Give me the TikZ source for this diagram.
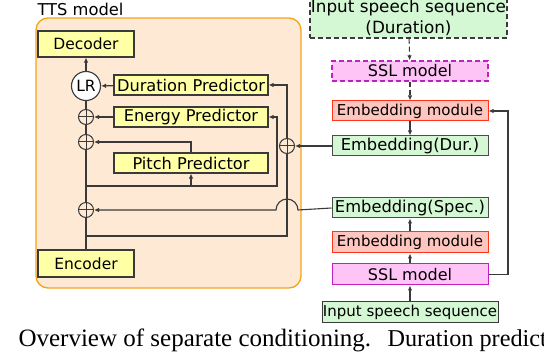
\documentclass[tikz,border=0pt]{standalone}
\usepackage{fontspec}
\setmainfont{DejaVu Sans}
\newfontfamily\capfont{Liberation Serif}
\usetikzlibrary{arrows.meta,positioning,calc}
\definecolor{cLine}{HTML}{3a3a3a}
\definecolor{cOrg}{HTML}{f5a418}
\definecolor{cOrgF}{HTML}{fde9d4}
\definecolor{cYel}{HTML}{ffffa6}
\definecolor{cGrn}{HTML}{d4f7d4}
\definecolor{cPnk}{HTML}{ffc4f6}
\definecolor{cMag}{HTML}{c020c0}
\definecolor{cRed}{HTML}{ffc6c0}
\definecolor{cRedB}{HTML}{ff3418}
\tikzset{
  blk/.style={draw=cLine,line width=1.1pt,fill=cYel,inner sep=0pt,
              font=\fontsize{15.5}{17}\selectfont},
  pred/.style={blk,minimum width=154,minimum height=20,
              font=\fontsize{16.2}{17}\selectfont},
  emb/.style={draw=gray!60!black,line width=1pt,fill=cGrn,inner sep=0pt,
              minimum width=156,minimum height=20,font=\fontsize{15}{17}\selectfont},
  embtxt/.style={emb,font=\fontsize{16.3}{17}\selectfont},
  embmod/.style={emb,draw=cRedB,fill=cRed},
  ssl/.style={emb,draw=cMag,fill=cPnk,font=\fontsize{16}{17}\selectfont},
  dash6/.style={dash pattern=on 5pt off 3pt},
  oplus/.style={circle,draw=cLine,line width=1pt,fill=cOrgF,minimum size=15,
              inner sep=0pt,path picture={
              \draw[cLine,line width=1pt]
                (path picture bounding box.north)--(path picture bounding box.south)
                (path picture bounding box.west)--(path picture bounding box.east);}},
  flow/.style={-{Latex[length=5pt,width=4.5pt]},cLine,line width=1.1pt},
  wire/.style={cLine,line width=1.1pt},
  capt/.style={font=\capfont\fontsize{25}{27}\selectfont},
}
\begin{document}
\begin{tikzpicture}[x=1pt,y=-1pt]
  \useasboundingbox (0,0) rectangle (544,352);
  % TTS model
  \draw[cOrg,line width=1.3pt,fill=cOrgF,rounded corners=12pt] (36,18) rectangle (301,288);
  \node[anchor=base west,font=\fontsize{16.3}{17}\selectfont] (tts) at (34,16) {TTS model};
  \node[blk,minimum width=96,minimum height=26] (dec) at (86,44) {Decoder};
  \node[blk,minimum width=96,minimum height=27] (enc) at (86,263.5) {Encoder};
  \node[circle,draw=cLine,line width=1.1pt,fill=white,minimum size=29,inner sep=0pt,
        font=\fontsize{15.5}{17}\selectfont] (lr) at (86,86) {LR};
  \node[pred] (durp) at (191,85) {Duration Predictor};
  \node[pred] (engp) at (191,117) {Energy Predictor};
  \node[pred] (pitp) at (191,163) {Pitch Predictor};
  \node[oplus] (addE) at (86,117) {};
  \node[oplus] (addP) at (86,142) {};
  \node[oplus] (addS) at (86,210) {};
  \node[oplus] (addD) at (287,146) {};
  % input branch (duration)
  \node[emb,draw=cLine,line width=1.2pt,dash6,minimum width=197,minimum height=41,
        align=center,font=\fontsize{16.8}{21}\selectfont] (inD) at (408.5,17.5)
        {Input speech sequence\\(Duration)};
  \node[ssl,dash6,line width=1.2pt] (sslD) at (410,71) {SSL model};
  \node[embmod] (modD) at (410,111) {Embedding module};
  \node[embtxt] (embD) at (410,146) {Embedding(Dur.)};
  % input branch (spectrum)
  \node[embtxt] (embS) at (410,208) {Embedding(Spec.)};
  \node[embmod,minimum height=21] (modS) at (410,242.5) {Embedding module};
  \node[ssl,minimum height=21] (sslS) at (410,274.5) {SSL model};
  \node[emb,draw=cLine,minimum width=176,minimum height=21] (inS) at (410,312.5)
        {Input speech sequence};
  % helper points
  \coordinate (tapP) at (86,186);
  \coordinate (tapD) at (86,236);
  \coordinate (jmpR) at (298,210);
  % main stream
  \draw[wire] (enc) -- (addS) -- (addP) -- (addE) -- (lr);
  \draw[flow] (lr) -- (dec);
  \draw[flow] (durp) -- (lr);
  \draw[flow] (engp) -- (addE);
  \draw[flow] (pitp.north) |- (addP);
  \draw[flow] (tapP) -| (277,117) -- (engp.east);
  \draw[flow] (tapP -| pitp) -- (pitp.south);
  \draw[wire] (tapD) -| (addD);
  \draw[flow] (addD) |- (durp.east);
  \draw[flow] (embD) -- (addD);
  \draw[flow] (embS.west) -- (jmpR) arc[start angle=0,end angle=-180,radius=11] -- (addS);
  % duration side
  \draw[flow,dash6] (inD) -- (sslD);
  \draw[flow,dash6] (sslD) -- (modD);
  \draw[flow] (modD) -- (embD);
  % spectrum side
  \draw[flow] (inS) -- (sslS);
  \draw[flow] (sslS) -- (modS);
  \draw[flow] (modS) -- (embS);
  \draw[flow] (sslS.east) -- (508,274.5) |- (modD.east);
  % caption
  \node[capt,anchor=base east] (capA) at (4,347) {.};
  \node[capt,anchor=base west] (capB) at (15,347) {Overview of separate conditioning.};
  \node[capt,anchor=base west,font=\capfont\fontsize{24.2}{27}\selectfont] (capC)
        at (384,347) {Duration predict};
\end{tikzpicture}
\end{document}
